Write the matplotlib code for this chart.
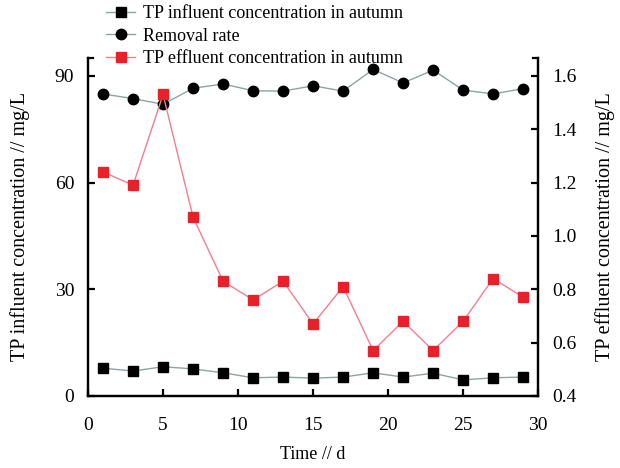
import matplotlib
matplotlib.use("Agg")
import matplotlib.pyplot as plt

plt.rcParams["font.family"] = ["Liberation Serif", "DejaVu Serif"]
plt.rcParams["font.size"] = 12.5

days = [1, 3, 5, 7, 9, 11, 13, 15, 17, 19, 21, 23, 25, 27, 29]
influent = [7.8, 7.0, 8.2, 7.6, 6.5, 5.1, 5.3, 5.0, 5.3, 6.5, 5.3, 6.4, 4.5, 5.1, 5.3]
removal = [84.9, 83.6, 82.0, 86.5, 87.7, 85.8, 85.7, 87.2, 85.7, 91.8, 88.0, 91.6, 86.0, 84.9, 86.4]
effluent = [1.24, 1.19, 1.53, 1.07, 0.83, 0.76, 0.83, 0.67, 0.81, 0.57, 0.68, 0.57, 0.68, 0.84, 0.77]

left_ticks = [0, 30, 60, 90]
right_ticks = [0.4, 0.6, 0.8, 1.0, 1.2, 1.4, 1.6]
x_ticks = [0, 5, 10, 15, 20, 25, 30]

fig = plt.figure(figsize=(6.2, 4.68), dpi=100)
ax = fig.add_axes([0.142, 0.154, 0.726, 0.722])
ax2 = ax.twinx()

line_grey = "#8fa3a3"
l1, = ax.plot(days, influent, color=line_grey, lw=1, marker="s", ms=6.5,
              mfc="black", mec="black", label="TP influent concentration in autumn")
l2, = ax.plot(days, removal, color=line_grey, lw=1, marker="o", ms=7.5,
              mfc="black", mec="black", label="Removal rate")
l3, = ax2.plot(days, effluent, color="#f27e8e", lw=1, marker="s", ms=7,
               mfc="#e8202a", mec="#e8202a", label="TP effluent concentration in autumn")

ax.set_xlim(0, 30)
ax.set_ylim(0, 95)
ax2.set_ylim(0.4, 0.4 + 95 / 90 * 1.2)
ax.set_xticks(x_ticks)
ax.set_yticks(left_ticks)
ax2.set_yticks(right_ticks)
ax2.set_yticklabels([f"{v:.1f}" for v in right_ticks])

for a in (ax, ax2):
    a.spines["top"].set_visible(False)
    for s in a.spines.values():
        s.set_linewidth(1.6)
    a.tick_params(direction="in", length=5, width=1.6, pad=10, labelsize=14)
ax.tick_params(axis="x", pad=15)

# short caps at the top of both y spines
ax.plot([0, 0.012], [1, 1], color="black", lw=1.6, transform=ax.transAxes, clip_on=False)
ax.plot([0.988, 1], [1, 1], color="black", lw=1.6, transform=ax.transAxes, clip_on=False)

ax.set_xlabel("Time // d", labelpad=9, fontsize=13)
ax.set_ylabel("TP influent concentration // mg/L", labelpad=18, fontsize=14.5)
ax2.set_ylabel("TP effluent concentration // mg/L", rotation=90, labelpad=13, fontsize=14.5)

fig.legend(handles=[l1, l2, l3], loc="upper left", bbox_to_anchor=(0.16, 1.004),
           frameon=False, handlelength=1.6, handletextpad=0.4, labelspacing=0.3,
           borderaxespad=0, fontsize=13)

fig.savefig("out.png", dpi=100)
